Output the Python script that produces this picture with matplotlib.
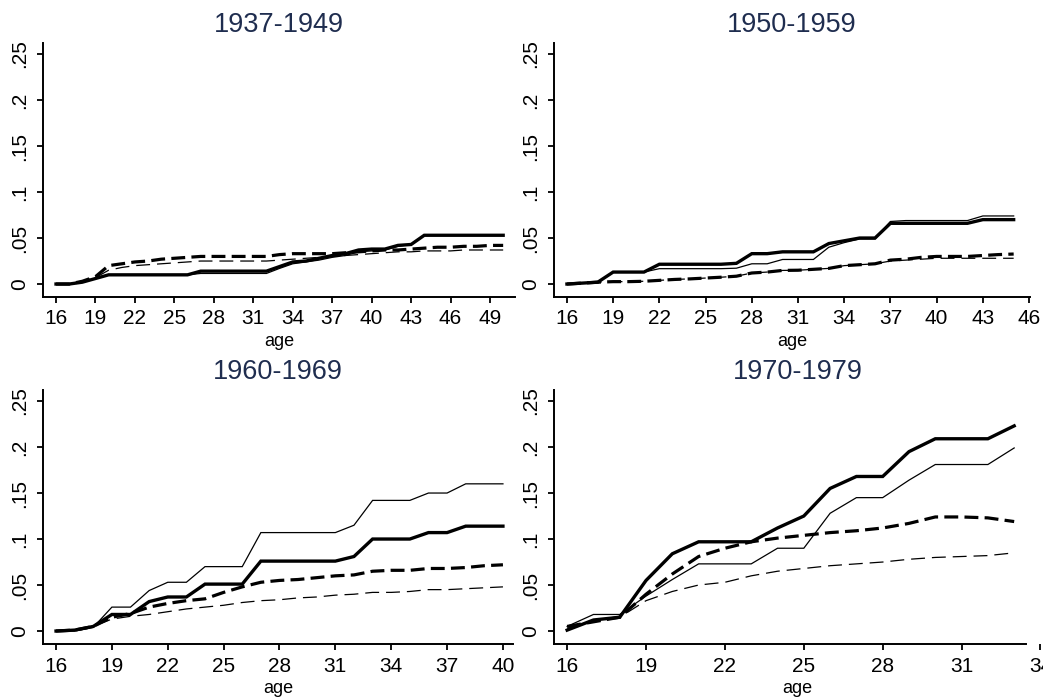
import numpy as np
import matplotlib
matplotlib.use("Agg")
import matplotlib.pyplot as plt

plt.rcParams['font.family'] = ['Liberation Sans', 'DejaVu Sans']
plt.rcParams['lines.scale_dashes'] = False

# ---- data (share by age, four series per cohort) ----
titles = ['1937-1949', '1950-1959', '1960-1969', '1970-1979']

ages_37 = list(range(16, 51))
thick_solid_37 = [0, 0, 0.002, 0.006, 0.010, 0.010, 0.010, 0.010, 0.010, 0.010, 0.010,
                  0.014, 0.014, 0.014, 0.014, 0.014, 0.014, 0.019, 0.024, 0.025, 0.028,
                  0.031, 0.033, 0.037, 0.038, 0.038, 0.042, 0.043, 0.053, 0.053, 0.053,
                  0.053, 0.053, 0.053, 0.053]
thin_solid_37 = [0, 0, 0.002, 0.006, 0.010, 0.010, 0.010, 0.010, 0.010, 0.010, 0.010,
                 0.0115, 0.0115, 0.0115, 0.0115, 0.0115, 0.0115, 0.017, 0.022, 0.024, 0.026,
                 0.029, 0.031, 0.035, 0.036, 0.037, 0.041, 0.043, 0.053, 0.053, 0.053,
                 0.053, 0.053, 0.053, 0.053]
thick_dash_37 = [0, 0, 0.003, 0.008, 0.020, 0.022, 0.024, 0.025, 0.027, 0.028, 0.029,
                 0.030, 0.030, 0.030, 0.030, 0.030, 0.030, 0.032, 0.033, 0.033, 0.033,
                 0.033, 0.034, 0.035, 0.036, 0.037, 0.037, 0.038, 0.039, 0.040, 0.040,
                 0.041, 0.041, 0.042, 0.042]
thin_dash_37 = [0, 0, 0.003, 0.007, 0.015, 0.018, 0.020, 0.021, 0.022, 0.023, 0.024,
                0.025, 0.025, 0.025, 0.025, 0.025, 0.025, 0.026, 0.027, 0.028, 0.029,
                0.030, 0.031, 0.032, 0.033, 0.034, 0.035, 0.035, 0.036, 0.036, 0.036,
                0.037, 0.037, 0.037, 0.037]

ages_50 = list(range(16, 46))
thick_solid_50 = [0, 0.001, 0.002, 0.013, 0.013, 0.013, 0.0215, 0.0215, 0.0215, 0.0215,
                  0.0215, 0.0225, 0.033, 0.033, 0.035, 0.035, 0.035, 0.044, 0.047, 0.050,
                  0.050, 0.066, 0.066, 0.066, 0.066, 0.066, 0.066, 0.070, 0.070, 0.070]
thin_solid_50 = [0, 0.001, 0.002, 0.013, 0.013, 0.013, 0.0167, 0.0167, 0.0167, 0.0167,
                 0.0167, 0.0172, 0.022, 0.022, 0.0267, 0.0267, 0.0267, 0.040, 0.045, 0.049,
                 0.049, 0.068, 0.069, 0.069, 0.069, 0.069, 0.069, 0.074, 0.074, 0.074]
thick_dash_50 = [0, 0.001, 0.002, 0.0026, 0.0026, 0.003, 0.004, 0.005, 0.0056, 0.0065,
                 0.0074, 0.0085, 0.012, 0.013, 0.0148, 0.015, 0.016, 0.017, 0.020, 0.021,
                 0.022, 0.026, 0.027, 0.029, 0.030, 0.030, 0.030, 0.031, 0.032, 0.0326]
thin_dash_50 = [0, 0.001, 0.002, 0.0026, 0.0026, 0.003, 0.004, 0.005, 0.0056, 0.0065,
                0.0074, 0.0085, 0.012, 0.013, 0.0148, 0.015, 0.016, 0.017, 0.020, 0.021,
                0.022, 0.025, 0.026, 0.027, 0.028, 0.028, 0.028, 0.028, 0.028, 0.028]

ages_60 = list(range(16, 41))
thick_solid_60 = [0, 0.001, 0.005, 0.018, 0.018, 0.032, 0.037, 0.037, 0.051, 0.051,
                  0.051, 0.076, 0.076, 0.076, 0.076, 0.076, 0.081, 0.100, 0.100, 0.100,
                  0.107, 0.107, 0.114, 0.114, 0.114]
thin_solid_60 = [0, 0, 0.004, 0.026, 0.026, 0.044, 0.053, 0.053, 0.070, 0.070,
                 0.070, 0.107, 0.107, 0.107, 0.107, 0.107, 0.115, 0.142, 0.142, 0.142,
                 0.150, 0.150, 0.160, 0.160, 0.160]
thick_dash_60 = [0, 0.001, 0.005, 0.015, 0.019, 0.026, 0.030, 0.033, 0.035, 0.042,
                 0.048, 0.053, 0.055, 0.056, 0.058, 0.060, 0.061, 0.065, 0.066, 0.066,
                 0.068, 0.068, 0.069, 0.071, 0.072]
thin_dash_60 = [0, 0.001, 0.005, 0.013, 0.016, 0.018, 0.021, 0.024, 0.026, 0.028,
                0.031, 0.033, 0.034, 0.036, 0.037, 0.039, 0.040, 0.042, 0.042, 0.043,
                0.045, 0.045, 0.046, 0.047, 0.048]

ages_70 = list(range(16, 34))
thick_solid_70 = [0.001, 0.012, 0.015, 0.055, 0.084, 0.097, 0.097, 0.097, 0.112, 0.125,
                  0.155, 0.168, 0.168, 0.195, 0.209, 0.209, 0.209, 0.223]
thin_solid_70 = [0.005, 0.018, 0.018, 0.038, 0.056, 0.073, 0.073, 0.073, 0.090, 0.090,
                 0.128, 0.145, 0.145, 0.164, 0.181, 0.181, 0.181, 0.199]
thick_dash_70 = [0.005, 0.010, 0.015, 0.040, 0.062, 0.081, 0.090, 0.097, 0.101, 0.104,
                 0.107, 0.109, 0.112, 0.117, 0.124, 0.124, 0.123, 0.119]
thin_dash_70 = [0.003, 0.010, 0.015, 0.033, 0.043, 0.050, 0.053, 0.060, 0.065, 0.068,
                0.071, 0.073, 0.075, 0.078, 0.080, 0.081, 0.082, 0.085]

panels = [
    (ages_37, thick_solid_37, thin_solid_37, thick_dash_37, thin_dash_37),
    (ages_50, thick_solid_50, thin_solid_50, thick_dash_50, thin_dash_50),
    (ages_60, thick_solid_60, thin_solid_60, thick_dash_60, thin_dash_60),
    (ages_70, thick_solid_70, thin_solid_70, thick_dash_70, thin_dash_70),
]
yticks = [0, 0.05, 0.1, 0.15, 0.2, 0.25]
ytick_labels = ['0', '.05', '.1', '.15', '.2', '.25']
xtick_tops = [49, 46, 40, 34]

# ---- layout (pixels of the 1043x698 reference) ----
W, H = 1043, 698
# left, right, top, bottom in px ; x limits ; right end of x spine
boxes = [(43, 515, 43, 297), (554, 1030, 43, 297),
         (43, 513, 390, 644), (554, 1041, 390, 644)]
xlims = [(15.01, 50.9), (15.16, 46.06), (15.30, 40.54), (15.5, 34.02)]
spine_ends = [None, None, None, 33.45]

fig = plt.figure(figsize=(W / 100, H / 100), dpi=100)

for k, (ages, ts, tn, ds, dn) in enumerate(panels):
    l, r, t, b = boxes[k]
    ax = fig.add_axes([l / W, 1 - b / H, (r - l) / W, (b - t) / H])

    ax.plot(ages, tn, color='black', lw=0.9, solid_joinstyle='miter')
    ax.plot(ages, dn, color='black', lw=0.9, dashes=(10, 5))
    ax.plot(ages, ds, color='black', lw=2.3, dashes=(10, 4.5))
    ax.plot(ages, ts, color='black', lw=2.4, solid_joinstyle='miter')

    ax.set_xlim(*xlims[k])
    ax.set_ylim(-0.0141, 0.262)
    ax.set_xticks(list(range(16, xtick_tops[k] + 1, 3)))
    ax.set_yticks(yticks)
    ax.set_yticklabels(ytick_labels, rotation=90, va='center')

    for side in ('top', 'right'):
        ax.spines[side].set_visible(False)
    for side in ('left', 'bottom'):
        ax.spines[side].set_linewidth(1.4)
    if spine_ends[k] is not None:
        ax.spines['bottom'].set_bounds(xlims[k][0], spine_ends[k])

    ax.tick_params(axis='both', direction='out', length=4, width=1.3,
                   labelsize=15, colors='black')
    ax.tick_params(axis='y', pad=6)
    ax.tick_params(axis='x', pad=5)
    ax.set_xlabel('age', fontsize=13, labelpad=3)
    ax.set_title(titles[k], fontsize=19.5, color='#1f2d4f', pad=8)

fig.savefig('out.png', dpi=100)
